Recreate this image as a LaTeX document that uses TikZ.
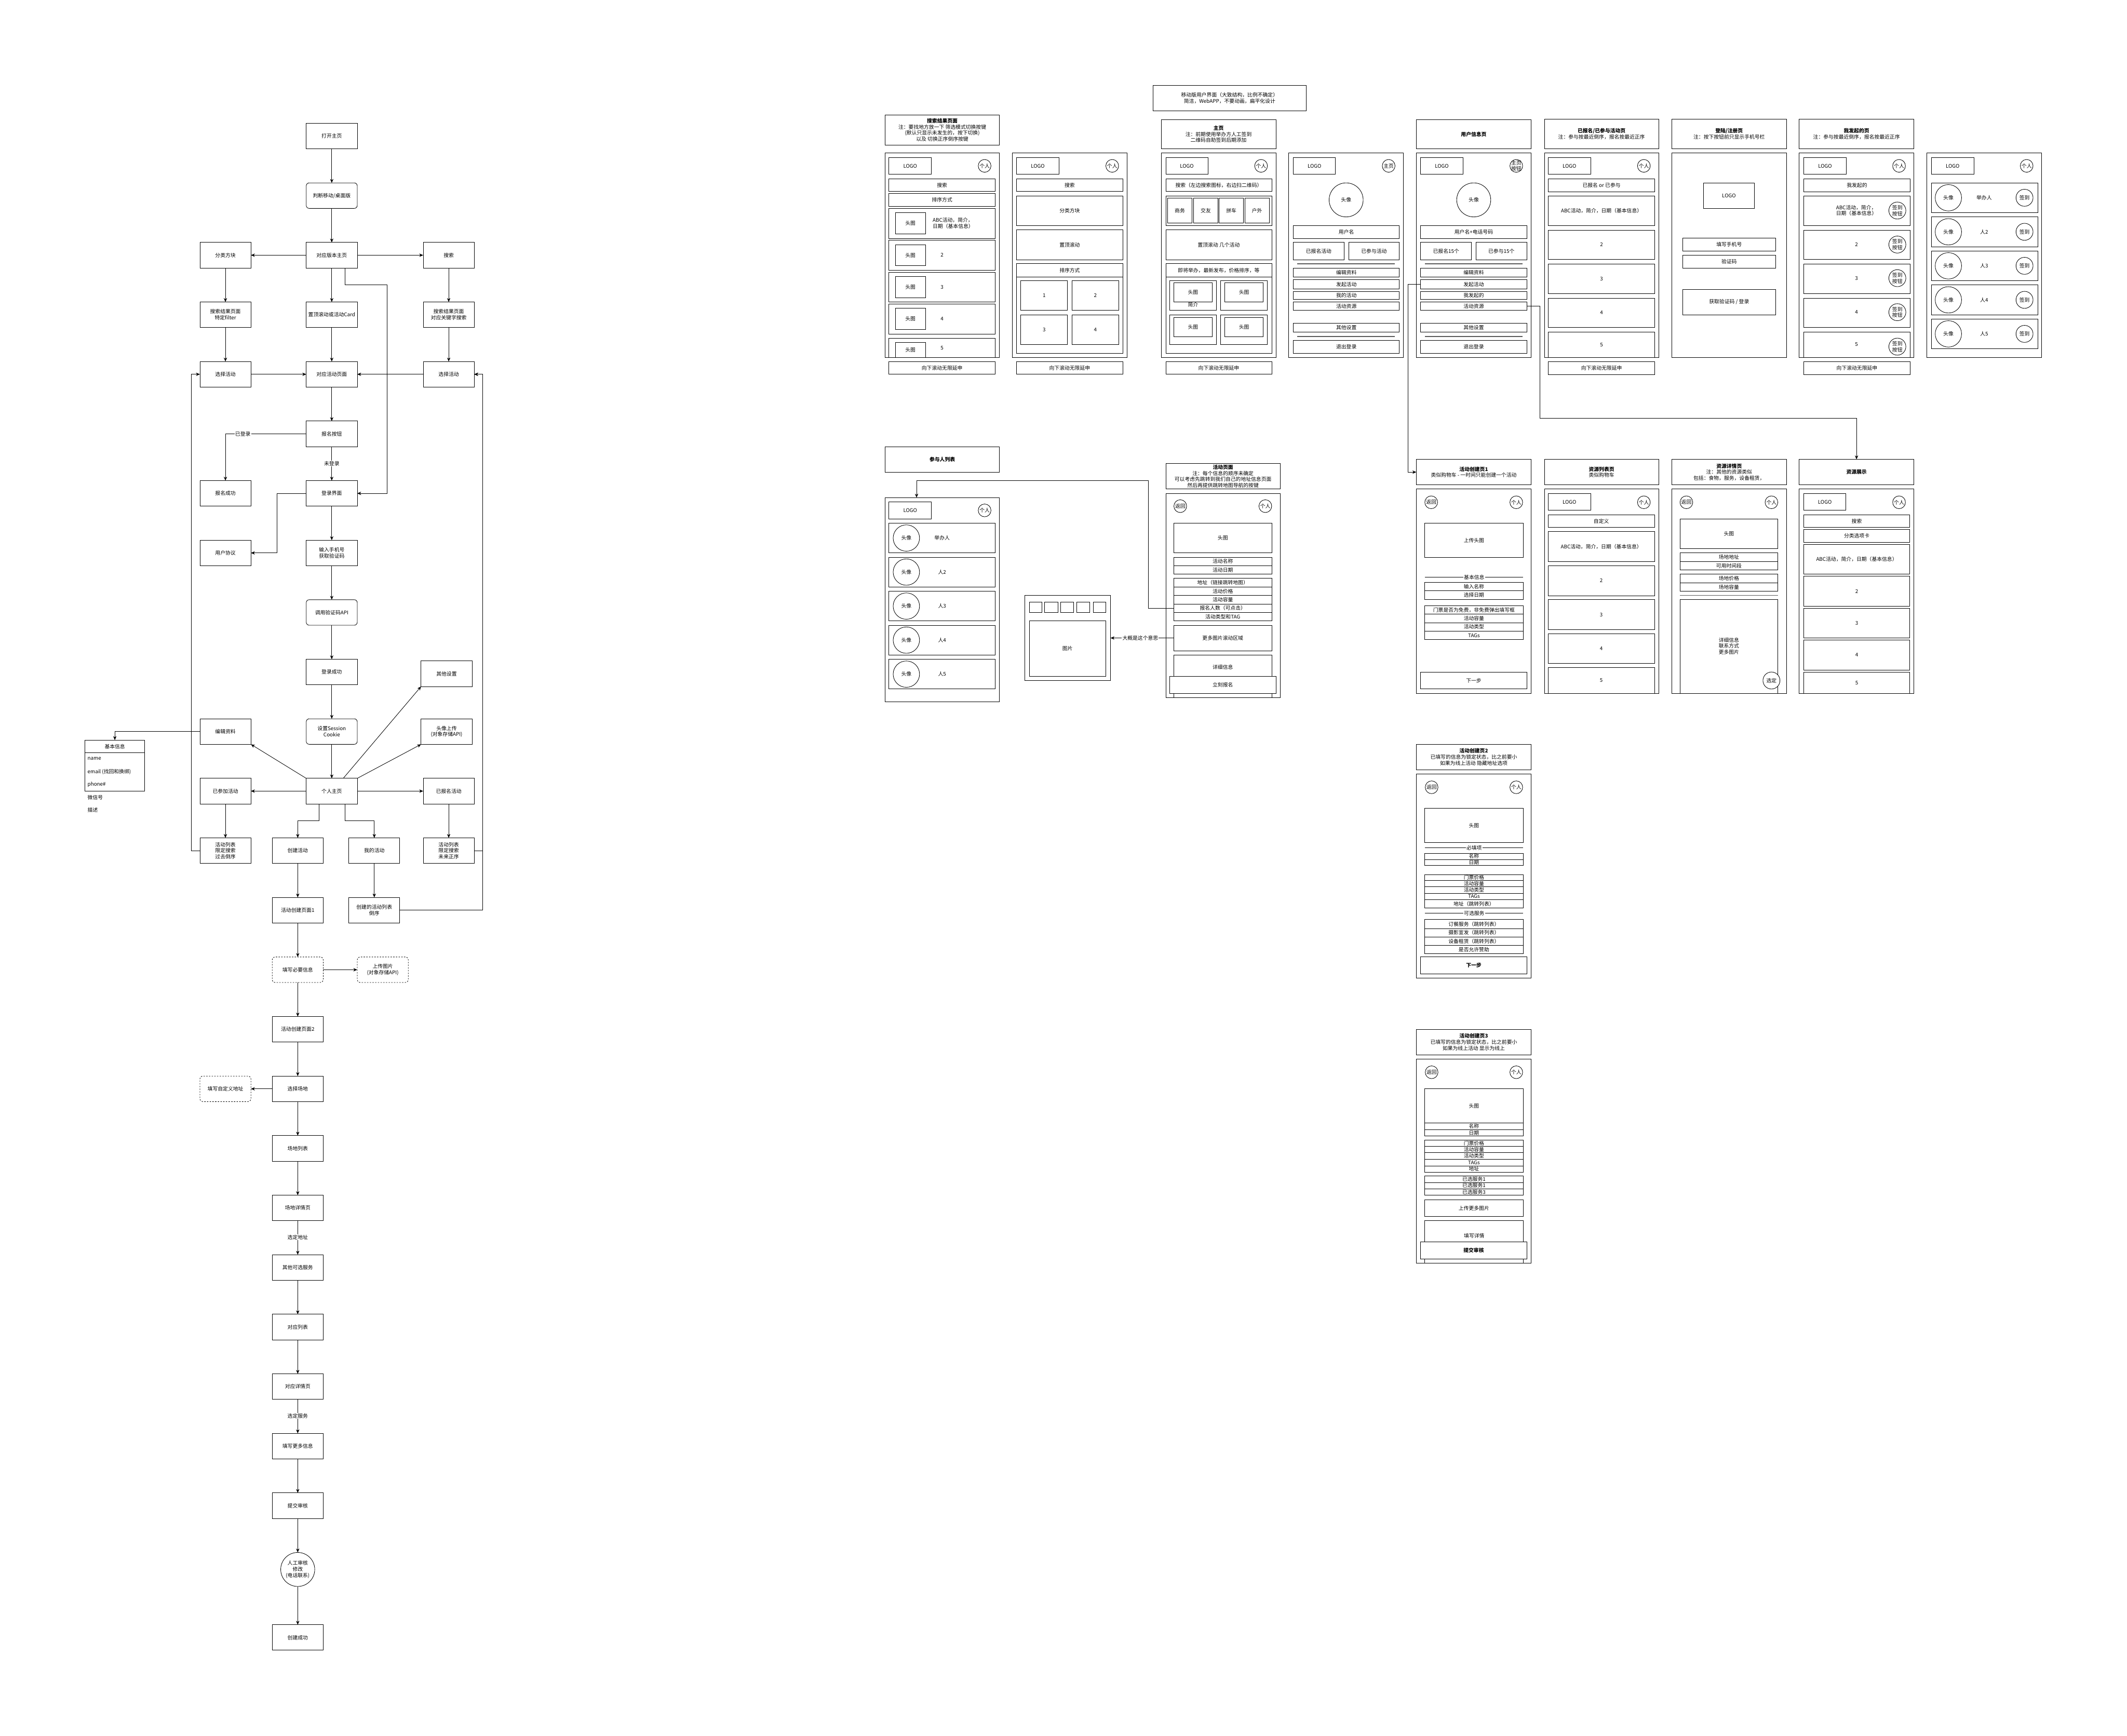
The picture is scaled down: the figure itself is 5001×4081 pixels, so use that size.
\documentclass[tikz,border=0pt]{standalone}
\usepackage{fontspec}
\setmainfont{Noto Sans CJK SC}
\usetikzlibrary{arrows.meta,calc}
\newcommand\fs{\fontsize{3.41pt}{4.07pt}\selectfont}
\tikzset{
 wb/.style={draw, fill=white, inner sep=0pt, outer sep=0pt, align=center, font=\fs, line width=0.3pt},
 fc/.style={wb, minimum width=34.14pt, minimum height=17.07pt},
 rnd/.style={rounded corners=2pt},
 dsh/.style={dash pattern=on 0.9pt off 0.9pt},
 txt/.style={inner sep=0pt, outer sep=0pt, align=center, font=\fs},
 lbl/.style={txt, fill=white, inner sep=0.4pt},
 arr/.style={line width=0.3pt, -{Stealth[length=2.6pt,width=2.2pt,inset=0.8pt]}},
 ln/.style={line width=0.3pt},
 sep/.style={line width=0.5pt, draw=black!65},
}
\newcommand\wbox[7][]{\node[wb,#1,minimum width={0.28453pt*(#5-#3)},minimum height={0.28453pt*(#6-#4)}] (#2) at ({(#3+#5)/2},{(#4+#6)/2}) {#7};}
\newcommand\wcirc[6][]{\node[wb,circle,#1,minimum size={0.28453pt*#5}] (#2) at (#3,#4) {#6};}
\begin{document}
\begin{tikzpicture}[x=0.1mm,y=-0.1mm]
\fill[white] (0,0) rectangle (5001,4081);
\useasboundingbox (0,0) rectangle (5001,4081);

% ================= FLOWCHART =================
\node[fc] (open) at (780,320) {打开主页};
\node[fc,rnd] (judge) at (780,460) {判断移动/桌面版};
\node[fc] (home) at (780,600) {对应版本主页};
\node[fc] (cat) at (530,600) {分类方块};
\node[fc] (search) at (1055,600) {搜索};
\node[fc] (sres1) at (530,740) {搜索结果页面\\特定filter};
\node[fc] (topc) at (780,740) {置顶滚动或活动Card};
\node[fc] (sres2) at (1055,740) {搜索结果页面\\对应关键字搜索};
\node[fc] (selL) at (530,880) {选择活动};
\node[fc] (actp) at (780,880) {对应活动页面};
\node[fc] (selR) at (1055,880) {选择活动};
\node[fc] (signup) at (780,1020) {报名按钮};
\node[fc] (okk) at (530,1160) {报名成功};
\node[fc] (login) at (780,1160) {登录界面};
\node[fc] (agree) at (530,1300) {用户协议};
\node[fc] (phone) at (780,1300) {输入手机号\\获取验证码};
\node[fc,rnd] (api) at (780,1440) {调用验证码API};
\node[fc] (logok) at (780,1580) {登录成功};
\node[fc] (other) at (1050,1584) {其他设置};
\node[fc] (edit) at (530,1720) {编辑资料};
\node[fc,rnd] (sess) at (780,1720) {设置Session\\Cookie};
\node[fc] (avup) at (1050,1720) {头像上传\\(对象存储API)};
\node[fc] (me) at (780,1860) {个人主页};
\node[fc] (joined) at (530,1860) {已参加活动};
\node[fc] (signed) at (1055,1860) {已报名活动};
\node[fc] (pastl) at (530,2000) {活动列表\\限定搜索\\过去倒序};
\node[fc] (create) at (700,2000) {创建活动};
\node[fc] (mine) at (880,2000) {我的活动};
\node[fc] (futl) at (1055,2000) {活动列表\\限定搜索\\未来正序};
\node[fc] (cp1) at (700,2140) {活动创建页面1};
\node[fc] (mylist) at (880,2140) {创建的活动列表\\倒序};
\node[fc,rnd,dsh] (fillinfo) at (700,2280) {填写必要信息};
\node[fc,rnd,dsh] (upimg) at (900,2280) {上传图片\\(对象存储API)};
\node[fc] (cp2) at (700,2420) {活动创建页面2};
\node[fc] (venue) at (700,2560) {选择场地};
\node[fc,rnd,dsh] (custom) at (530,2560) {填写自定义地址};
\node[fc] (vlist) at (700,2700) {场地列表};
\node[fc] (vdet) at (700,2840) {场地详情页};
\node[fc] (svc) at (700,2980) {其他可选服务};
\node[fc] (slist) at (700,3120) {对应列表};
\node[fc] (sdet) at (700,3260) {对应详情页};
\node[fc] (more) at (700,3400) {填写更多信息};
\node[fc] (submit) at (700,3540) {提交审核};
\node[wb,circle,minimum size=22.76pt] (review) at (700,3690) {人工审核\\修改\\(电话联系)};
\node[fc] (done) at (700,3850) {创建成功};

% basic info table
\wbox{tbl}{200}{1740}{340}{1860}{}
\wbox{tblh}{200}{1740}{340}{1770}{基本信息}
\node[txt,anchor=west] (tn1) at (206,1784) {name};
\node[txt,anchor=west] (tn2) at (206,1815) {email (找回和换绑)};
\node[txt,anchor=west] (tn3) at (206,1845) {phone\#};
\node[txt,anchor=west] (tn4) at (206,1875) {微信号};
\node[txt,anchor=west] (tn5) at (206,1904) {描述};

% flowchart edges
\draw[arr] (open.south) -- (judge.north);
\draw[arr] (judge.south) -- (home.north);
\draw[arr] (home.west) -- (cat.east);
\draw[arr] (home.east) -- (search.west);
\draw[arr] (cat.south) -- (sres1.north);
\draw[arr] (home.south) -- (topc.north);
\draw[arr] (search.south) -- (sres2.north);
\draw[arr] (sres1.south) -- (selL.north);
\draw[arr] (topc.south) -- (actp.north);
\draw[arr] (sres2.south) -- (selR.north);
\draw[arr] (selL.east) -- (actp.west);
\draw[arr] (selR.west) -- (actp.east);
\draw[arr] (actp.south) -- (signup.north);
\draw[arr] (signup.west) -| (okk.north);
\draw[arr] (signup.south) -- (login.north);
\draw[arr] ($(home.south)+(31,0)$) -- ++(0,40) -- ++(99,0) |- (login.east);
\draw[arr] (login.west) -- ++(-69,0) |- (agree.east);
\draw[arr] (login.south) -- (phone.north);
\draw[arr] (phone.south) -- (api.north);
\draw[arr] (api.south) -- (logok.north);
\draw[arr] (logok.south) -- (sess.north);
\draw[arr] (sess.south) -- (me.north);
\draw[arr] (edit.west) -| (tbl.north);
\draw[arr] (me.north west) -- (edit.south east);
\draw[arr] ($(me.north)+(27,0)$) -- (other.south west);
\draw[arr] (me.north east) -- (avup.south west);
\draw[arr] (me.west) -- (joined.east);
\draw[arr] (me.east) -- (signed.west);
\draw[arr] ($(me.south)+(-30,0)$) -- ++(0,40) -| (create.north);
\draw[arr] ($(me.south)+(31,0)$) -- ++(0,40) -| (mine.north);
\draw[arr] (joined.south) -- (pastl.north);
\draw[arr] (signed.south) -- (futl.north);
\draw[arr] (pastl.west) -- ++(-20,0) |- (selL.west);
\draw[arr] (futl.east) -- ++(20,0) |- (selR.east);
\draw[arr] (mylist.east) -| ($(selR.east)+(20,0)$) -- (selR.east);
\draw[arr] (create.south) -- (cp1.north);
\draw[arr] (mine.south) -- (mylist.north);
\draw[arr] (cp1.south) -- (fillinfo.north);
\draw[arr] (fillinfo.east) -- (upimg.west);
\draw[arr] (fillinfo.south) -- (cp2.north);
\draw[arr] (cp2.south) -- (venue.north);
\draw[arr] (venue.west) -- (custom.east);
\draw[arr] (venue.south) -- (vlist.north);
\draw[arr] (vlist.south) -- (vdet.north);
\draw[arr] (vdet.south) -- (svc.north);
\draw[arr] (svc.south) -- (slist.north);
\draw[arr] (slist.south) -- (sdet.north);
\draw[arr] (sdet.south) -- (more.north);
\draw[arr] (more.south) -- (submit.north);
\draw[arr] (submit.south) -- (review.north);
\draw[arr] (review.south) -- (done.north);
\node[lbl] (lab1) at (571,1020) {已登录};
\node[lbl] (lab2) at (780,1090) {未登录};
\node[lbl] (lab3) at (700,2909) {选定地址};
\node[lbl] (lab4) at (700,3329) {选定服务};

% ================= WIREFRAMES =================
\wbox{hdr}{2711}{201}{3071}{260}{移动版用户界面（大致结构，比例不确定）\\简洁，WebAPP，不要动画，扁平化设计}

% ---- A: search result
\wbox{aT}{2081}{270}{2350}{341}{\textbf{搜索结果页面}\\注：要找地方放一下 筛选模式切换按键\\(默认只显示未发生的，按下切换)\\以及 切换正序倒序按键}
\wbox{aF}{2081}{360}{2350}{840}{}
\wbox{aLogo}{2090}{371}{2190}{410}{LOGO}
\wcirc{aMe}{2315}{390}{30}{个人}
\wbox{aS}{2090}{421}{2340}{450}{搜索}
\wbox{aSort}{2090}{455}{2340}{485}{排序方式}
\wbox{aI1}{2090}{490}{2340}{561}{}
\wbox{aI1h}{2105}{500}{2176}{550}{头图}
\node[txt,anchor=west,align=left] (aI1t) at (2193,525) {ABC活动，简介，\\日期（基本信息）};
\wbox{aI2}{2090}{565}{2340}{635}{}
\wbox{aI2h}{2105}{575}{2176}{625}{头图}
\node[txt] (aI2t) at (2215,600) {2};
\wbox{aI3}{2090}{640}{2340}{710}{}
\wbox{aI3h}{2105}{650}{2176}{700}{头图}
\node[txt] (aI3t) at (2215,675) {3};
\wbox{aI4}{2090}{715}{2340}{785}{}
\wbox{aI4h}{2105}{725}{2176}{775}{头图}
\node[txt] (aI4t) at (2215,750) {4};
\wbox{aI5}{2090}{795}{2340}{840}{}
\wbox{aI5h}{2105}{805}{2176}{840}{头图}
\node[txt] (aI5t) at (2215,818) {5};
\wbox{aMore}{2090}{850}{2340}{880}{向下滚动无限延申}

% ---- B
\wbox{bF}{2380}{360}{2650}{840}{}
\wbox{bLogo}{2390}{371}{2490}{410}{LOGO}
\wcirc{bMe}{2615}{390}{30}{个人}
\wbox{bS}{2390}{421}{2640}{450}{搜索}
\wbox{bCat}{2390}{461}{2640}{530}{分类方块}
\wbox{bTop}{2390}{540}{2640}{611}{置顶滚动}
\wbox{bSort}{2390}{620}{2640}{831}{}
\wbox{bSortH}{2390}{620}{2640}{651}{排序方式}
\wbox{bG1}{2400}{660}{2510}{730}{1}
\wbox{bG2}{2521}{660}{2630}{730}{2}
\wbox{bG3}{2400}{741}{2510}{810}{3}
\wbox{bG4}{2521}{741}{2630}{810}{4}
\wbox{bMore}{2390}{850}{2640}{880}{向下滚动无限延申}

% ---- C: home
\wbox{cT}{2730}{281}{3000}{350}{\textbf{主页}\\注：前期使用举办方人工签到\\二维码自助签到后期添加}
\wbox{cF}{2730}{360}{3000}{840}{}
\wbox{cLogo}{2741}{371}{2840}{410}{LOGO}
\wcirc{cMe}{2965}{390}{30}{个人}
\wbox{cS}{2741}{421}{2990}{450}{搜索（左边搜索图标，右边扫二维码）}
\wbox{cCat}{2741}{461}{2990}{530}{}
\wbox{cC1}{2745}{466}{2803}{524}{商务}
\wbox{cC2}{2806}{466}{2864}{524}{交友}
\wbox{cC3}{2866}{466}{2924}{524}{拼车}
\wbox{cC4}{2927}{466}{2984}{524}{户外}
\wbox{cTop}{2741}{540}{2990}{611}{置顶滚动 几个活动}
\wbox{cList}{2741}{620}{2990}{831}{}
\wbox{cListH}{2741}{620}{2990}{651}{即将举办，最新发布，价格排序，等}
\wbox{cK1}{2750}{660}{2860}{730}{}
\wbox{cK1h}{2760}{665}{2850}{710}{头图}
\node[txt] (cK1t) at (2805,716) {简介};
\wbox{cK2}{2870}{660}{2980}{730}{}
\wbox{cK2h}{2880}{665}{2970}{710}{头图}
\wbox{cK3}{2750}{741}{2860}{810}{}
\wbox{cK3h}{2760}{747}{2850}{792}{头图}
\wbox{cK4}{2870}{741}{2980}{810}{}
\wbox{cK4h}{2880}{747}{2970}{792}{头图}
\wbox{cMore}{2741}{850}{2990}{880}{向下滚动无限延申}

% ---- D: personal
\wbox{dF}{3030}{360}{3300}{840}{}
\wbox{dLogo}{3041}{371}{3140}{410}{LOGO}
\wcirc{dHome}{3265}{390}{30}{主页}
\wcirc{dAv}{3165}{470}{80}{头像}
\wbox{dName}{3041}{530}{3290}{561}{用户名}
\wbox{dReg}{3041}{570}{3160}{611}{已报名活动}
\wbox{dJoin}{3171}{570}{3290}{611}{已参与活动}
\draw[sep] (3050,620) -- (3280,620);
\wbox{dEdit}{3041}{630}{3290}{651}{编辑资料}
\wbox{dLaunch}{3041}{658}{3290}{679}{发起活动}
\wbox{dMine}{3041}{685}{3290}{704}{我的活动}
\wbox{dRes}{3041}{710}{3290}{730}{活动资源}
\wbox{dOther}{3041}{760}{3290}{781}{其他设置}
\draw[sep] (3050,791) -- (3280,791);
\wbox{dOut}{3041}{800}{3290}{831}{退出登录}

% ---- E: user info
\wbox{eT}{3330}{281}{3600}{350}{\textbf{用户信息页}}
\wbox{eF}{3330}{360}{3600}{840}{}
\wbox{eLogo}{3340}{371}{3440}{410}{LOGO}
\wcirc{eHome}{3565}{390}{30}{}
\node[txt] (eHomeT) at (eHome) {主页\\按钮};
\wcirc{eAv}{3465}{470}{80}{头像}
\wbox{eName}{3340}{530}{3590}{561}{用户名+电话号码}
\wbox{eReg}{3340}{570}{3460}{611}{已报名15个}
\wbox{eJoin}{3470}{570}{3590}{611}{已参与15个}
\draw[sep] (3350,620) -- (3580,620);
\wbox{eEdit}{3340}{630}{3590}{651}{编辑资料}
\wbox{eLaunch}{3340}{658}{3590}{679}{发起活动}
\wbox{eMine}{3340}{685}{3590}{704}{我发起的}
\wbox{eRes}{3340}{710}{3590}{730}{活动资源}
\wbox{eOther}{3340}{760}{3590}{781}{其他设置}
\draw[sep] (3350,791) -- (3580,791);
\wbox{eOut}{3340}{800}{3590}{831}{退出登录}

% ---- F: signed/joined
\wbox{fT}{3631}{280}{3900}{350}{\textbf{已报名/已参与活动页}\\注：参与按最近倒序，报名按最近正序}
\wbox{fF}{3631}{360}{3900}{840}{}
\wbox{fLogo}{3640}{370}{3740}{410}{LOGO}
\wcirc{fMe}{3865}{390}{30}{个人}
\wbox{fTab}{3640}{420}{3891}{451}{已报名 or 已参与}
\wbox{fI1}{3640}{461}{3891}{530}{ABC活动，简介，日期（基本信息）}
\wbox{fI2}{3640}{541}{3891}{610}{2}
\wbox{fI3}{3640}{621}{3891}{690}{3}
\wbox{fI4}{3640}{701}{3891}{770}{4}
\wbox{fI5}{3640}{781}{3891}{840}{5}
\wbox{fMore}{3640}{850}{3891}{881}{向下滚动无限延申}

% ---- G: login
\wbox{gT}{3931}{280}{4200}{350}{\textbf{登陆/注册页}\\注：按下按钮前只显示手机号栏}
\wbox{gF}{3931}{360}{4200}{840}{}
\wbox{gLogo}{4005}{430}{4125}{490}{LOGO}
\wbox{gPhone}{3956}{560}{4175}{590}{填写手机号}
\wbox{gCode}{3956}{600}{4175}{630}{验证码}
\wbox{gBtn}{3956}{680}{4175}{740}{获取验证码 / 登录}

% ---- H: my launched
\wbox{hT}{4230}{280}{4500}{350}{\textbf{我发起的页}\\注：参与按最近倒序，报名按最近正序}
\wbox{hF}{4230}{360}{4500}{840}{}
\wbox{hLogo}{4241}{370}{4341}{410}{LOGO}
\wcirc{hMe}{4465}{390}{30}{个人}
\wbox{hTab}{4241}{420}{4491}{451}{我发起的}
\wbox{hI1}{4241}{461}{4491}{530}{}
\node[txt,anchor=west,align=left] (hI1t) at (4317,495) {ABC活动，简介，\\日期（基本信息）};
\wcirc{hC1}{4461}{495}{40}{签到\\按钮}
\wbox{hI2}{4241}{541}{4491}{610}{}
\node[txt] (hI2t) at (4365,575) {2};
\wcirc{hC2}{4461}{575}{40}{签到\\按钮}
\wbox{hI3}{4241}{621}{4491}{690}{}
\node[txt] (hI3t) at (4365,654) {3};
\wcirc{hC3}{4461}{654}{40}{签到\\按钮}
\wbox{hI4}{4241}{701}{4491}{770}{}
\node[txt] (hI4t) at (4365,734) {4};
\wcirc{hC4}{4461}{734}{40}{签到\\按钮}
\wbox{hI5}{4241}{781}{4491}{840}{}
\node[txt] (hI5t) at (4365,810) {5};
\wcirc{hC5}{4461}{815}{40}{签到\\按钮}
\wbox{hMore}{4241}{850}{4491}{881}{向下滚动无限延申}

% ---- I: check-in list
\wbox{iF}{4530}{360}{4800}{840}{}
\wbox{iLogo}{4541}{370}{4641}{410}{LOGO}
\wcirc{iMe}{4765}{390}{30}{个人}
\foreach \k/\yy/\nm in {1/465/举办人,2/545/人2,3/625/人3,4/705/人4,5/785/人5}{
  \node[wb,minimum width=71.13pt,minimum height=19.92pt] (iR\k) at (4666,\yy) {};
  \node[wb,circle,minimum size=17.64pt] (iA\k) at (4581,\yy) {头像};
  \node[txt] (iN\k) at (4665,\yy) {\nm};
  \node[wb,circle,minimum size=11.38pt] (iS\k) at (4760,\yy) {签到};
}

% ---- J: participants
\wbox{jT}{2081}{1050}{2350}{1110}{\textbf{参与人列表}}
\wbox{jF}{2081}{1170}{2350}{1650}{}
\wbox{jLogo}{2090}{1180}{2190}{1220}{LOGO}
\wcirc{jMe}{2315}{1200}{30}{个人}
\foreach \k/\yy/\nm in {1/1265/举办人,2/1345/人2,3/1425/人3,4/1505/人4,5/1585/人5}{
  \node[wb,minimum width=71.13pt,minimum height=19.92pt] (jR\k) at (2215,\yy) {};
  \node[wb,circle,minimum size=17.64pt] (jA\k) at (2131,\yy) {头像};
  \node[txt] (jN\k) at (2215,\yy) {\nm};
}

% ---- K: gallery
\wbox{kF}{2410}{1400}{2611}{1600}{}
\wbox{kT1}{2420}{1415}{2450}{1440}{}
\wbox{kT2}{2456}{1415}{2487}{1440}{}
\wbox{kT3}{2494}{1415}{2524}{1440}{}
\wbox{kT4}{2531}{1415}{2562}{1440}{}
\wbox{kT5}{2570}{1415}{2600}{1440}{}
\wbox{kPic}{2420}{1460}{2600}{1590}{图片}

% ---- L: activity page
\wbox{lT}{2741}{1090}{3010}{1150}{\textbf{活动页面}\\注：每个信息的顺序未确定\\可以考虑先跳转到我们自己的地址信息页面\\然后再提供跳转地图导航的按键}
\wbox{lF}{2741}{1160}{3010}{1640}{}
\wcirc{lBack}{2775}{1190}{30}{返回}
\wcirc{lMe}{2975}{1190}{30}{个人}
\wbox{lHead}{2760}{1230}{2990}{1300}{头图}
\wbox{lName}{2760}{1310}{2990}{1330}{活动名称}
\wbox{lDate}{2760}{1330}{2990}{1350}{活动日期}
\wbox{lAddr}{2760}{1360}{2990}{1380}{地址（链接跳转地图）}
\wbox{lPrice}{2760}{1380}{2990}{1400}{活动价格}
\wbox{lCap}{2760}{1400}{2990}{1420}{活动容量}
\wbox{lNum}{2760}{1420}{2990}{1440}{报名人数（可点击）}
\wbox{lType}{2760}{1440}{2990}{1460}{活动类型和TAG}
\wbox{lMore}{2760}{1470}{2990}{1530}{更多图片滚动区域}
\wbox{lDet}{2760}{1540}{2990}{1640}{}
\node[txt] (lDetT) at (2875,1569) {详细信息};
\wbox{lJoin}{2750}{1590}{3000}{1630}{立刻报名}
\draw[arr] (lNum.west) -- ++(-60,0) |- ++(-545,-300) -- (jF.north -| 2155,0);
\draw[arr] (lMore.west) -- (kF.east);
\node[lbl] (lab5) at (2681,1500) {大概是这个意思};

% ---- M: create page 1
\wbox{mT}{3330}{1080}{3600}{1140}{\textbf{活动创建页1}\\类似购物车 - 一时间只能创建一个活动}
\wbox{mF}{3330}{1150}{3600}{1630}{}
\wcirc{mBack}{3365}{1181}{30}{返回}
\wcirc{mMe}{3565}{1181}{30}{个人}
\wbox{mHead}{3350}{1230}{3581}{1311}{上传头图}
\draw[ln] (3350,1357) -- (3581,1357);
\node[lbl] (mSep) at (3466,1357) {基本信息};
\wbox{mName}{3350}{1369}{3581}{1389}{输入名称}
\wbox{mDate}{3350}{1389}{3581}{1409}{选择日期}
\wbox{mFee}{3350}{1424}{3581}{1444}{门票是否为免费，非免费弹出填写框}
\wbox{mCap}{3350}{1444}{3581}{1464}{活动容量}
\wbox{mType}{3350}{1464}{3581}{1484}{活动类型}
\wbox{mTag}{3350}{1484}{3581}{1504}{TAGs}
\wbox{mNext}{3340}{1580}{3590}{1620}{下一步}
\draw[arr] (eLaunch.west) -- ++(-30,0) |- (mT.west);

% ---- N: resource list
\wbox{nT}{3631}{1080}{3900}{1140}{\textbf{资源列表页}\\类似购物车}
\wbox{nF}{3631}{1150}{3900}{1630}{}
\wbox{nLogo}{3640}{1160}{3740}{1200}{LOGO}
\wcirc{nMe}{3865}{1181}{30}{个人}
\wbox{nCust}{3640}{1210}{3890}{1240}{自定义}
\wbox{nI1}{3640}{1250}{3890}{1320}{ABC活动，简介，日期（基本信息）}
\wbox{nI2}{3640}{1330}{3890}{1401}{2}
\wbox{nI3}{3640}{1410}{3890}{1480}{3}
\wbox{nI4}{3640}{1490}{3890}{1560}{4}
\wbox{nI5}{3640}{1570}{3890}{1630}{5}

% ---- O: resource detail
\wbox{oT}{3931}{1080}{4200}{1140}{\textbf{资源详情页}\\注：其他的资源类似\\包括：食物，服务，设备租赁，}
\wbox{oF}{3931}{1150}{4200}{1630}{}
\wcirc{oBack}{3965}{1181}{30}{返回}
\wcirc{oMe}{4165}{1181}{30}{个人}
\wbox{oHead}{3950}{1220}{4180}{1290}{头图}
\wbox{oAddr}{3950}{1300}{4180}{1320}{场地地址}
\wbox{oTime}{3950}{1320}{4180}{1340}{可用时间段}
\wbox{oPrice}{3950}{1350}{4180}{1370}{场地价格}
\wbox{oCap}{3950}{1370}{4180}{1390}{场地容量}
\draw[sep] (3950,1400) -- (4180,1400);
\wbox{oDet}{3950}{1410}{4180}{1630}{}
\node[txt] (oDetT) at (4065,1519) {详细信息\\联系方式\\更多图片};
\wcirc{oPick}{4165}{1600}{40}{选定}

% ---- P: resource showcase
\wbox{pT}{4230}{1080}{4500}{1140}{\textbf{资源展示}}
\wbox{pF}{4230}{1150}{4500}{1630}{}
\wbox{pLogo}{4241}{1160}{4340}{1200}{LOGO}
\wcirc{pMe}{4465}{1181}{30}{个人}
\wbox{pS}{4241}{1210}{4490}{1240}{搜索}
\wbox{pTab}{4241}{1245}{4490}{1275}{分类选项卡}
\wbox{pI1}{4241}{1280}{4490}{1350}{ABC活动，简介，日期（基本信息）}
\wbox{pI2}{4241}{1355}{4490}{1425}{2}
\wbox{pI3}{4241}{1430}{4490}{1500}{3}
\wbox{pI4}{4241}{1505}{4490}{1575}{4}
\wbox{pI5}{4241}{1581}{4490}{1630}{5}
\draw[arr] (eRes.east) -- ++(30,0) -- ++(0,263) -| (pT.north);

% ---- Q: create page 2
\wbox{qT}{3330}{1750}{3600}{1810}{\textbf{活动创建页2}\\已填写的信息为锁定状态，比之前要小\\如果为线上活动 隐藏地址选项}
\wbox{qF}{3330}{1820}{3600}{2300}{}
\wcirc{qBack}{3366}{1851}{30}{返回}
\wcirc{qMe}{3565}{1851}{30}{个人}
\wbox{qHead}{3350}{1900}{3581}{1981}{头图}
\draw[ln] (3350,1993) -- (3581,1993);
\node[lbl] (qSep1) at (3466,1993) {必填项};
\wbox{qName}{3350}{2006}{3581}{2021}{名称}
\wbox{qDate}{3350}{2021}{3581}{2035}{日期}
\wbox{qFee}{3350}{2056}{3581}{2070}{门票价格}
\wbox{qCap}{3350}{2070}{3581}{2085}{活动容量}
\wbox{qType}{3350}{2085}{3581}{2100}{活动类型}
\wbox{qTag}{3350}{2100}{3581}{2115}{TAGs}
\wbox{qAddr}{3350}{2115}{3581}{2135}{地址（跳转列表）}
\draw[ln] (3350,2147) -- (3581,2147);
\node[lbl] (qSep2) at (3466,2147) {可选服务};
\wbox{qS1}{3350}{2162}{3581}{2183}{订餐服务（跳转列表）}
\wbox{qS2}{3350}{2183}{3581}{2203}{摄影宣发（跳转列表）}
\wbox{qS3}{3350}{2203}{3581}{2223}{设备租赁（跳转列表）}
\wbox{qS4}{3350}{2223}{3581}{2242}{是否允许赞助}
\wbox{qNext}{3340}{2250}{3590}{2290}{\textbf{下一步}}

% ---- R: create page 3
\wbox{rT}{3330}{2420}{3600}{2480}{\textbf{活动创建页3}\\已填写的信息为锁定状态，比之前要小\\如果为线上活动 显示为线上}
\wbox{rF}{3330}{2490}{3600}{2970}{}
\wcirc{rBack}{3366}{2521}{30}{返回}
\wcirc{rMe}{3565}{2521}{30}{个人}
\wbox{rHead}{3350}{2560}{3581}{2640}{头图}
\wbox{rName}{3350}{2640}{3581}{2656}{名称}
\wbox{rDate}{3350}{2656}{3581}{2671}{日期}
\wbox{rFee}{3350}{2681}{3581}{2695}{门票价格}
\wbox{rCap}{3350}{2695}{3581}{2710}{活动容量}
\wbox{rType}{3350}{2710}{3581}{2726}{活动类型}
\wbox{rTag}{3350}{2726}{3581}{2741}{TAGs}
\wbox{rAddr}{3350}{2741}{3581}{2756}{地址}
\wbox{rS1}{3350}{2765}{3581}{2780}{已选服务1}
\wbox{rS2}{3350}{2780}{3581}{2795}{已选服务1}
\wbox{rS3}{3350}{2795}{3581}{2810}{已选服务3}
\wbox{rUp}{3350}{2821}{3581}{2860}{上传更多图片}
\wbox{rDet}{3350}{2870}{3581}{2970}{}
\node[txt] (rDetT) at (3466,2905) {填写详情};
\wbox{rSub}{3340}{2920}{3590}{2960}{\textbf{提交审核}}

\end{tikzpicture}
\end{document}
